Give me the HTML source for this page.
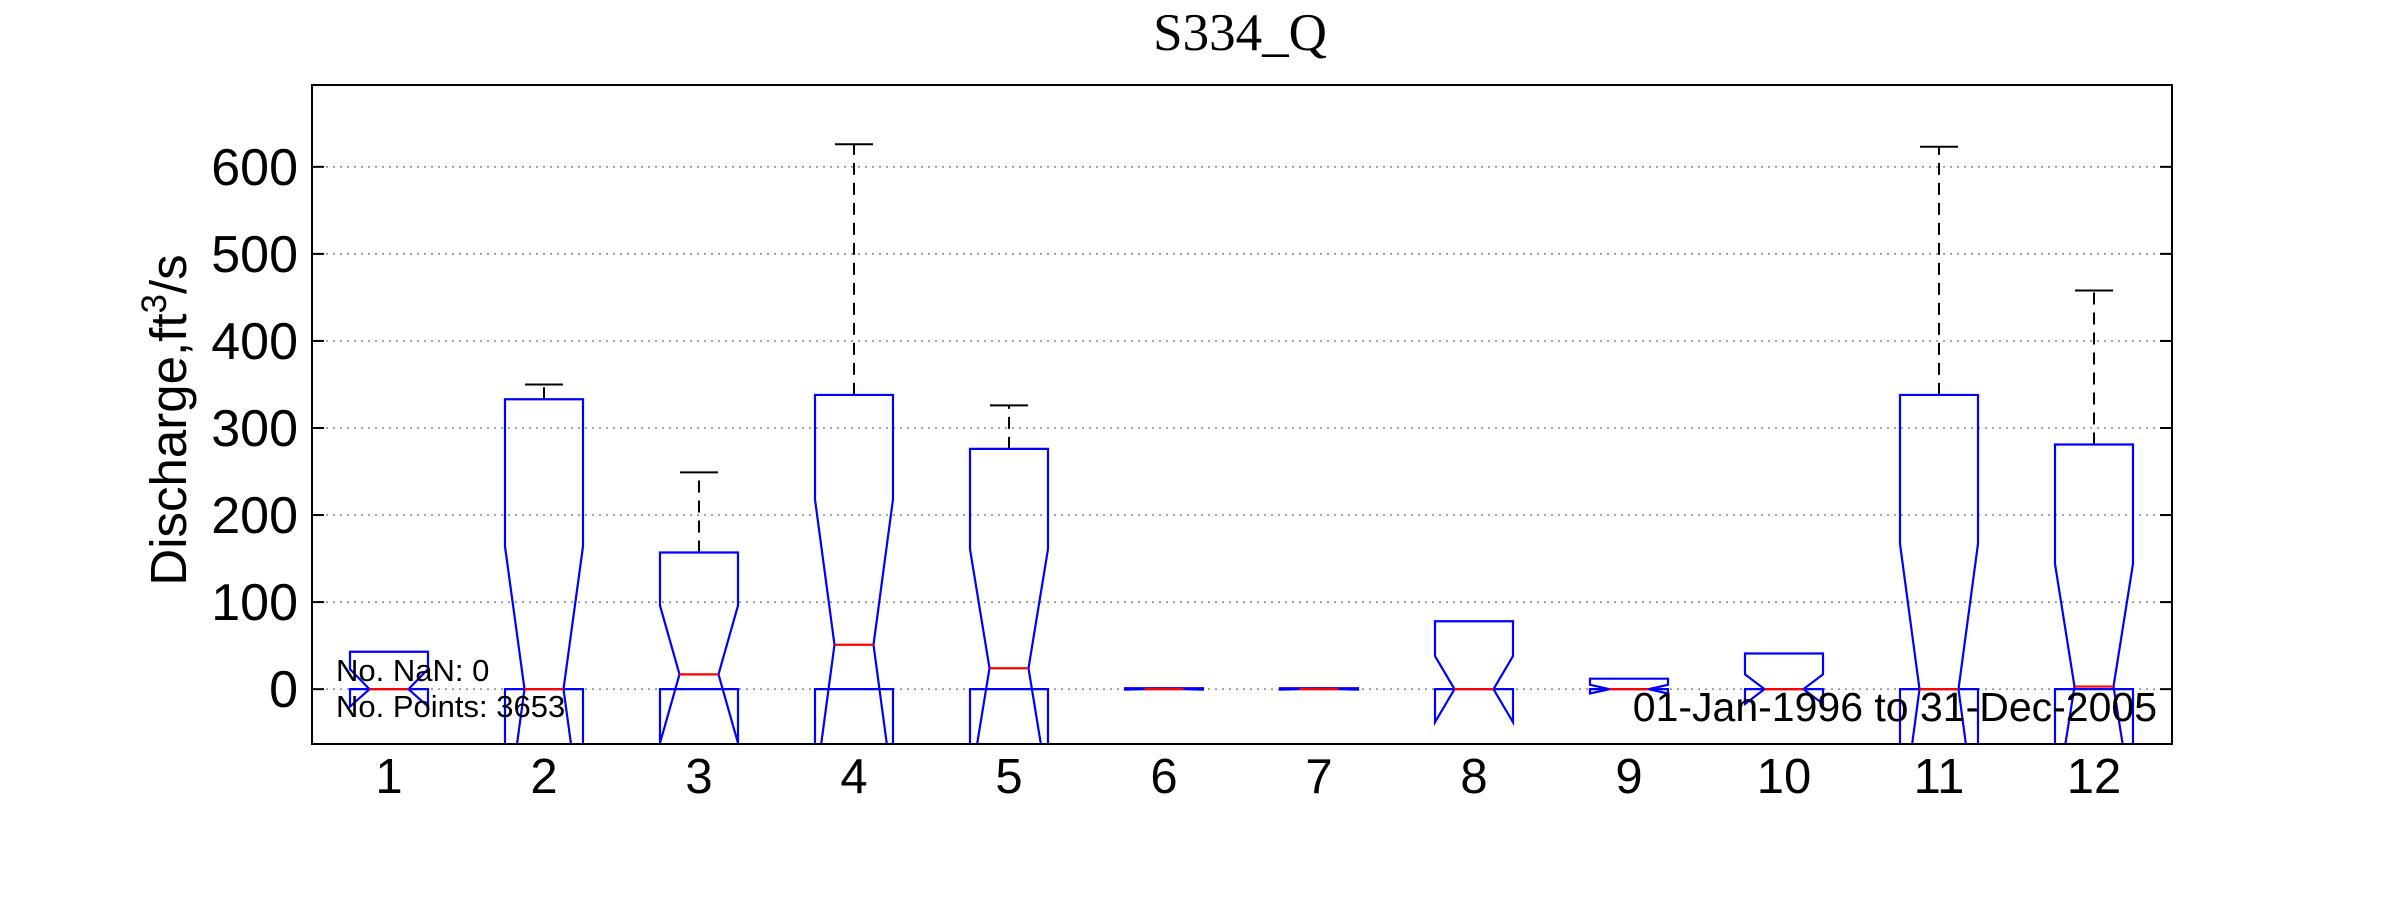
<!DOCTYPE html>
<html><head><meta charset="utf-8"><style>
body{margin:0;background:#fff;}
svg text{font-family:"Liberation Sans",sans-serif;}
</style></head><body>
<svg id="c" width="2400" height="900" viewBox="0 0 2400 900" xmlns="http://www.w3.org/2000/svg">
<rect width="2400" height="900" fill="#fff"/>
<text x="1240" y="50" text-anchor="middle" style="font-family:'Liberation Serif',serif;font-size:53px">S334_Q</text>
<g id="grid"></g>
<defs><clipPath id="clip"><rect x="312" y="85" width="1860" height="659"/></clipPath></defs>
<g id="boxes" clip-path="url(#clip)"></g>
<rect x="312" y="85" width="1860" height="659" fill="none" stroke="#000" stroke-width="2"/>
<g id="ticks"></g>
<text transform="translate(186,420) rotate(-90)" text-anchor="middle" style="font-size:51px">Discharge,ft<tspan dy="-20" font-size="35">3</tspan><tspan dy="20">/s</tspan></text>
<text x="336" y="681" style="font-size:31px">No. NaN: 0</text>
<text x="336" y="717" style="font-size:31px">No. Points: 3653</text>
<text x="2157" y="721" text-anchor="end" style="font-size:41px">01-Jan-1996 to 31-Dec-2005</text>
</svg>
<script>
const months=[1,2,3,4,5,6,7,8,9,10,11,12];
const q3=[43,333,157,338,276,1,1,78,12,41,338,281];
const q1=[0,0,0,0,0,0,0,0,0,0,0,0];
const medians=[0,0,17,51,24,0,0,0,0,0,0,3];
const notchHi=[23,164,96,218,161,0.5,0.5,38,5,17,167,144];
const notchLo=[-20,-164,-62,-116,-113,-0.5,-0.5,-38,-5,-17,-167,-138];
const whiskerHi=[43,350,249,626,326,1,1,78,12,41,623,458];
const yTicks=[0,100,200,300,400,500,600];
const NS="http://www.w3.org/2000/svg";
const X0=312,X1=2172,Y0=85,Y1=744,ymin=-63,ymax=694;
const xs=m=>389+(m-1)*(2094-389)/11;
const ys=v=>Y1-(v-ymin)/(ymax-ymin)*(Y1-Y0);
function mk(tag,attrs,parent){const e=document.createElementNS(NS,tag);for(const k in attrs)e.setAttribute(k,attrs[k]);parent.appendChild(e);return e;}
const grid=document.getElementById('grid'),ticks=document.getElementById('ticks'),boxes=document.getElementById('boxes');
yTicks.forEach(t=>{
 const y=ys(t);
 const g=mk('line',{x1:X0,x2:X1,y1:y,y2:y,stroke:'#888','stroke-width':1.5,'stroke-dasharray':'2 5'},grid);
 
 
 const a=mk('line',{x1:X0,x2:X0+12,y1:y,y2:y,stroke:'#000','stroke-width':2},ticks);
 
 
 const b=mk('line',{x1:X1-12,x2:X1,y1:y,y2:y,stroke:'#000','stroke-width':2},ticks);
 
 
 const tx=mk('text',{x:298,y:y+18,'text-anchor':'end','font-size':52},ticks);
 tx.textContent=t;
 
 
});
months.forEach((m,i)=>{
 const cx=xs(m),hw=39,n=19.5,L=cx-hw,R=cx+hw;
 const tx=mk('text',{x:cx,y:793,'text-anchor':'middle','font-size':49},ticks);
 tx.textContent=m;
 
 
 const g=mk('g',{},boxes);
 
 
 if(whiskerHi[i]>q3[i]+0.5){
  const w=mk('line',{x1:cx,x2:cx,y1:ys(q3[i]),y2:ys(whiskerHi[i]),stroke:'#000','stroke-width':2,'stroke-dasharray':'12 8'},g);
  
  
  const c=mk('line',{x1:cx-19,x2:cx+19,y1:ys(whiskerHi[i]),y2:ys(whiskerHi[i]),stroke:'#000','stroke-width':2},g);
  
  
 }
 const pts=[[L,q1[i]],[L,notchLo[i]],[L+n,medians[i]],[L,notchHi[i]],[L,q3[i]],[R,q3[i]],[R,notchHi[i]],[R-n,medians[i]],[R,notchLo[i]],[R,q1[i]]];
 const p=mk('polygon',{points:pts.map(p=>p[0]+','+ys(p[1])).join(' '),fill:'none',stroke:'#00f','stroke-width':2.2},g);
 
 
 const md=mk('line',{x1:L+n,x2:R-n,y1:ys(medians[i]),y2:ys(medians[i]),stroke:'#f00','stroke-width':2.2},g);
 
 
});
</script>
</body></html>
